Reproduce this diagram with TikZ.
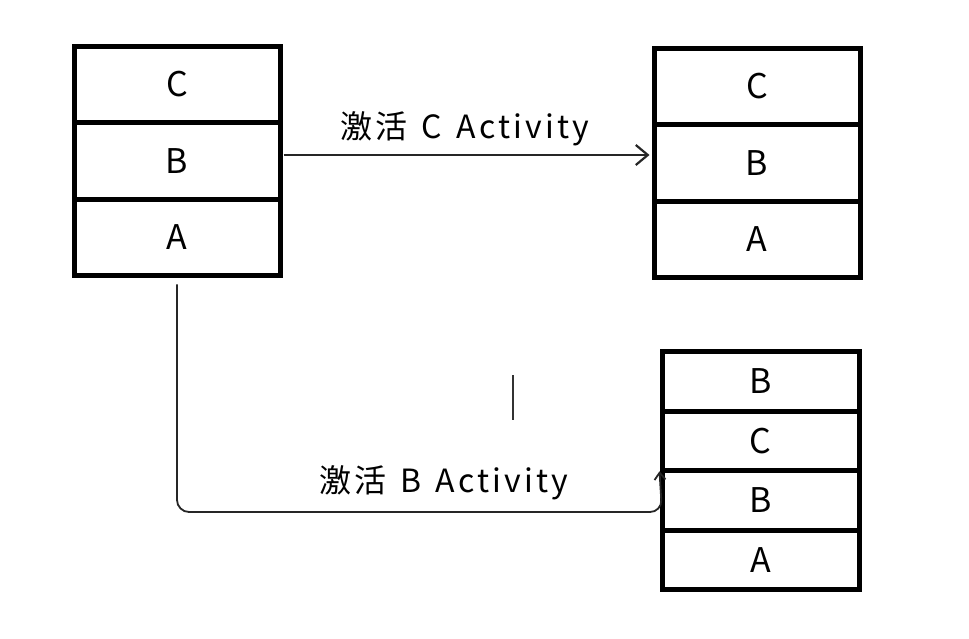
\documentclass[tikz,border=0pt]{standalone}
\usepackage{fontspec}
\setmainfont{Noto Sans CJK SC}
\usetikzlibrary{arrows.meta,calc}
\begin{document}
\begin{tikzpicture}[x=1pt,y=-1pt,
  cell/.style={draw=black,line width=5pt,minimum width=206pt,inner sep=0pt,font=\fontsize{34}{36}\selectfont},
  cellA/.style={cell,minimum height=76.5pt},
  cellB/.style={cell,minimum width=197pt,minimum height=59.5pt},
  conn/.style={draw=black!85,line width=1.8pt},
  lbl/.style={font=\fontsize{32}{34}\selectfont\addfontfeature{LetterSpace=10},inner sep=0pt}]
\useasboundingbox (0,0) rectangle (969,639);
% left stack
\node[cellA] (L1) at (177,84.5) {C};
\node[cellA] (L2) at (177,161) {B};
\node[cellA] (L3) at (177,237.5) {A};
% top right stack
\node[cellA] (R1) at (757,86.5) {C};
\node[cellA] (R2) at (757,163) {B};
\node[cellA] (R3) at (757,239.5) {A};
% bottom right stack
\node[cellB] (Q1) at (760.5,381.5) {B};
\node[cellB] (Q2) at (760.5,441) {C};
\node[cellB] (Q3) at (760.5,500.5) {B};
\node[cellB] (Q4) at (760.5,560) {A};
% connectors
\draw[conn,-{Straight Barb[length=12pt,width=20pt,line width=2.2pt]}] ([xshift=1pt,yshift=6pt]L2.east) -- ([xshift=-2pt,yshift=8pt]R2.west);
\node[lbl] (t1) at (465,129) {激活\hspace{14pt}C\hspace{14pt}Activity};
\coordinate (b1) at ($(L3.south)+(0,6)$);
\coordinate (b2) at (177,512);
\coordinate (b3) at (662,512);
\draw[conn,rounded corners=12pt,-{Straight Barb[length=7pt,width=11pt]}] (b1) -- (b2) -- (b3) -- ([yshift=-3pt]Q3.north west);
\node[lbl] (t2) at (444,483) {激活\hspace{14pt}B\hspace{14pt}Activity};
% stray cursor mark
\coordinate (m1) at (513,375);
\coordinate (m2) at (513,420);
\draw[line width=1.2pt,black!80] (m1) -- (m2);
\end{tikzpicture}
\end{document}
